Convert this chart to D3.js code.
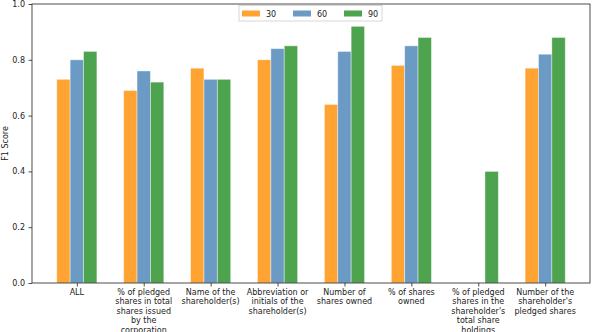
<!DOCTYPE html>
<html>
<head>
<meta charset="utf-8">
<script src="https://cdn.jsdelivr.net/npm/d3@7"></script>
<style>
  body { margin: 0; background: #fff; }
  text { font-family: "DejaVu Sans", sans-serif; fill: #222; }
</style>
</head>
<body>
<script>
// Data
var categories = [
    ["ALL"],
    ["% of pledged", "shares in total", "shares issued", "by the", "corporation"],
    ["Name of the", "shareholder(s)"],
    ["Abbreviation or", "initials of the", "shareholder(s)"],
    ["Number of", "shares owned"],
    ["% of shares", "owned"],
    ["% of pledged", "shares in the", "shareholder's", "total share", "holdings"],
    ["Number of the", "shareholder's", "pledged shares"]
];
var seriesNames = ["30", "60", "90"];
var values30 = [0.73, 0.69, 0.77, 0.80, 0.64, 0.78, 0.0, 0.77];
var values60 = [0.80, 0.76, 0.73, 0.84, 0.83, 0.85, 0.0, 0.82];
var values90 = [0.83, 0.72, 0.73, 0.85, 0.92, 0.88, 0.40, 0.88];
var yTicks = [0.0, 0.2, 0.4, 0.6, 0.8, 1.0];
var colors = ["#ffa333", "#6b9bc5", "#4ea34e"];

var series = [values30, values60, values90];

// Set up the chart
var margin = {top: 4, right: 2, bottom: 49, left: 32},
    width = 592 - margin.left - margin.right,
    height = 332 - margin.top - margin.bottom;

var x = d3.scaleLinear()
    .domain([-0.67, categories.length - 1 + 0.67])
    .range([0, width]);

var y = d3.scaleLinear()
    .domain([0, 1])
    .range([height, 0]);

var barW = 0.2;

var svg = d3.select("body").append("svg")
    .attr("width", 592)
    .attr("height", 332)
    .append("g")
    .attr("transform", "translate(" + margin.left + "," + margin.top + ")");

// Bars
series.forEach(function(vals, si) {
    svg.selectAll(".bar" + si)
        .data(vals.map((v, i) => ({i: i, v: v})))
        .enter().append("rect")
        .attr("x", d => x(d.i + (si - 1) * barW - barW / 2))
        .attr("width", x(barW) - x(0))
        .attr("y", d => y(d.v))
        .attr("height", d => height - y(d.v))
        .attr("fill", colors[si])
        .attr("stroke", "#fff")
        .attr("stroke-opacity", 0.5)
        .attr("stroke-width", 0.8);
});

// Frame
svg.append("rect")
    .attr("width", width)
    .attr("height", height)
    .attr("fill", "none")
    .attr("stroke", "#222")
    .attr("stroke-width", 0.8);

// Y axis
var yAxis = svg.append("g")
    .call(d3.axisLeft(y).tickValues(yTicks).tickFormat(d3.format(".1f")).tickSize(3.5).tickPadding(3.5));
yAxis.select(".domain").remove();
yAxis.selectAll("text").style("font-size", "8px").attr("fill", "#222");
yAxis.selectAll("line").attr("stroke", "#222").attr("stroke-width", 0.8);

// X axis
var xAxis = svg.append("g")
    .attr("transform", "translate(0," + height + ")")
    .call(d3.axisBottom(x).tickValues(d3.range(categories.length)).tickFormat("").tickSize(3.5));
xAxis.select(".domain").remove();
xAxis.selectAll("line").attr("stroke", "#222").attr("stroke-width", 0.8);

// Multi-line category labels
categories.forEach(function(lines, i) {
    var t = svg.append("text")
        .attr("x", x(i))
        .attr("y", height + 11.5)
        .style("text-anchor", "middle")
        .style("font-size", "8px");
    lines.forEach(function(l, j) {
        t.append("tspan")
            .attr("x", x(i))
            .attr("dy", j === 0 ? 0 : 9.5)
            .text(l);
    });
});

// Y axis label
svg.append("text")
    .attr("transform", "rotate(-90)")
    .attr("x", -height / 2)
    .attr("y", -24)
    .style("text-anchor", "middle")
    .style("font-size", "8px")
    .text("F1 Score");

// Legend
var legend = svg.append("g").attr("transform", "translate(" + (239 - margin.left) + "," + (5.5 - margin.top) + ")");
legend.append("rect")
    .attr("width", 143)
    .attr("height", 15.5)
    .attr("fill", "#fff")
    .attr("stroke", "#ccc")
    .attr("stroke-width", 0.8);
seriesNames.forEach(function(name, i) {
    var g = legend.append("g").attr("transform", "translate(" + (3 + i * 51) + ",0)");
    g.append("rect")
        .attr("y", 5)
        .attr("width", 18)
        .attr("height", 6)
        .attr("fill", colors[i]);
    g.append("text")
        .attr("x", 24)
        .attr("y", 11)
        .style("font-size", "8px")
        .text(name);
});
</script>
</body>
</html>
